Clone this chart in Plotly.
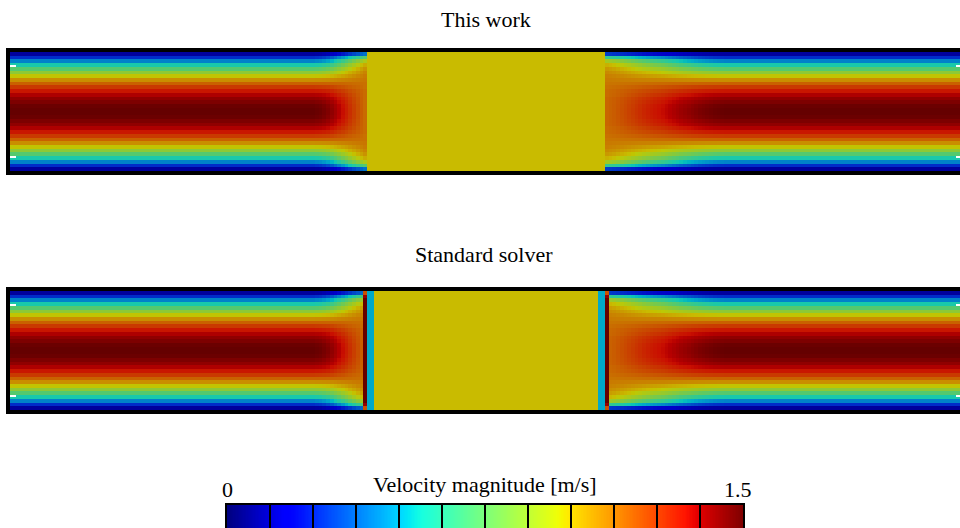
import numpy as np
import plotly.graph_objects as go

# ---------------- data ----------------
channel_length = 8.0          # channel length in channel heights
cells_per_unit = 32           # grid cells per channel height
plug_start = 3.0
plug_end = 5.0
plug_speed = 0.99             # m/s, uniform core block

# fully developed profile, wall -> centreline (m/s)
developed_half = [0.09, 0.27, 0.43, 0.58, 0.72, 0.85, 0.97, 1.08,
                  1.17, 1.25, 1.32, 1.38, 1.43, 1.46, 1.49, 1.50]
# profile just upstream of the block, wall -> centreline
approach_half = [0.40, 0.72, 0.92, 1.02, 1.07, 1.10, 1.12, 1.13,
                 1.14, 1.14, 1.15, 1.15, 1.15, 1.15, 1.15, 1.15]
# profile just downstream of the block, wall -> centreline
exit_half = [0.30, 0.65, 0.90, 1.01, 1.06, 1.09, 1.11, 1.12,
             1.13, 1.14, 1.15, 1.15, 1.16, 1.16, 1.16, 1.16]
# share of the disturbed profile, by cell count from the block
approach_weight = [1.0, 0.92, 0.83, 0.74, 0.65, 0.55, 0.46, 0.37,
                   0.28, 0.20, 0.13, 0.08, 0.04, 0.02]
exit_weight = [1.0, 0.97, 0.94, 0.90, 0.86, 0.82, 0.78, 0.74, 0.70,
               0.66, 0.62, 0.58, 0.55, 0.52, 0.49, 0.46, 0.42, 0.38,
               0.34, 0.30, 0.26, 0.23, 0.20, 0.17, 0.14, 0.11, 0.09,
               0.07, 0.05, 0.03, 0.02, 0.01]
# standard solver: spurious layers at both interfaces
spike_half = [1.20, 1.42, 1.50, 1.50, 1.50, 1.50, 1.50, 1.50,
              1.50, 1.50, 1.50, 1.50, 1.50, 1.50, 1.50, 1.50]
halo_speed = 0.50
halo_cells = 2

cbar_min, cbar_max = 0.0, 1.5
cbar_edges = [0.0, 0.125, 0.25, 0.375, 0.5, 0.625, 0.75, 0.875,
              1.0, 1.125, 1.25, 1.375, 1.5]
titles = ["This work", "Standard solver"]
cbar_title = "Velocity magnitude [m/s]"
edge_marks = [0.12, 0.88]

# ---------------- build fields ----------------
def full(h):
    h = list(h)
    return np.array(h + h[::-1], dtype=float)

ny = cells_per_unit
nx = int(round(channel_length * cells_per_unit))
i0 = int(round(plug_start * cells_per_unit))
i1 = int(round(plug_end * cells_per_unit))
dev, app, ext = full(developed_half), full(approach_half), full(exit_half)

Z1 = np.tile(dev[:, None], (1, nx))
Z1[:, i0:i1] = plug_speed
for d, w in enumerate(approach_weight, start=1):
    Z1[:, i0 - d] = dev + w * (app - dev)
for d, w in enumerate(exit_weight, start=1):
    Z1[:, i1 - 1 + d] = dev + w * (ext - dev)

Z2 = Z1.copy()
spike = full(spike_half)
Z2[:, i0 - 1] = spike
Z2[:, i1] = spike
Z2[:, i0:i0 + halo_cells] = halo_speed
Z2[:, i1 - halo_cells:i1] = halo_speed

# ---------------- colour scales (jet) ----------------
jet_r = ([0, 0.35, 0.66, 0.89, 1], [0, 0, 1, 1, 0.5])
jet_g = ([0, 0.125, 0.375, 0.64, 0.91, 1], [0, 0, 1, 1, 0, 0])
jet_b = ([0, 0.11, 0.34, 0.65, 1], [0.5, 1, 1, 0, 0])

def jet_scale(factor):
    out = []
    for t in np.linspace(0, 1, 101):
        r = np.interp(t, *jet_r) * 255 * factor
        g = np.interp(t, *jet_g) * 255 * factor
        b = np.interp(t, *jet_b) * 255 * factor
        out.append([float(t), f"rgb({r:.0f},{g:.0f},{b:.0f})"])
    return out

field_scale = jet_scale(0.79)
bar_scale = jet_scale(1.0)

fig = go.Figure()
dxy = 1.0 / cells_per_unit
for k, Z in enumerate([Z1, Z2]):
    ax = "" if k == 0 else "2"
    fig.add_trace(go.Heatmap(z=Z, x0=dxy / 2, dx=dxy, y0=dxy / 2, dy=dxy,
                             zmin=cbar_min, zmax=cbar_max, colorscale=field_scale,
                             showscale=False, hoverinfo="skip",
                             xaxis="x" + ax, yaxis="y" + ax))
# empty traces to carry the right-hand edge marks
fig.add_trace(go.Scatter(x=[], y=[], xaxis="x", yaxis="y4", showlegend=False))
fig.add_trace(go.Scatter(x=[], y=[], xaxis="x2", yaxis="y5", showlegend=False))

bar_vals = np.linspace(cbar_min, cbar_max, 361)
fig.add_trace(go.Heatmap(z=[bar_vals], x=bar_vals, y0=0.5, dy=1,
                         zmin=cbar_min, zmax=cbar_max, colorscale=bar_scale,
                         showscale=False, hoverinfo="skip",
                         xaxis="x3", yaxis="y3"))

for e in cbar_edges[1:-1]:
    fig.add_shape(type="line", xref="x3", yref="y3", x0=e, x1=e, y0=0, y1=1,
                  line=dict(color="black", width=2), layer="above")

# ---------------- layout ----------------
W, H = 960, 528
ml = 10
xmax = (W - ml) / 119.0
FONT = "Liberation Serif, Times New Roman, DejaVu Serif, serif"
panel_common_x = dict(range=[0, xmax], showline=True, mirror=True, linewidth=3.5,
                      linecolor="black", showticklabels=False, ticks="",
                      showgrid=False, zeroline=False)
panel_common_y = dict(range=[0, 1], showline=True, mirror=False, linewidth=3.5,
                      linecolor="black", ticks="inside", tickcolor="white",
                      ticklen=6, tickwidth=2, tickvals=edge_marks,
                      showticklabels=False, showgrid=False, zeroline=False)
right_marks = dict(range=[0, 1], side="right", showline=False, ticks="inside",
                   tickcolor="white", ticklen=4, tickwidth=2, tickvals=edge_marks,
                   showticklabels=False, showgrid=False, zeroline=False)
dom1 = [(H - 171) / H, (H - 52) / H]
dom2 = [(H - 410) / H, (H - 291) / H]

fig.update_layout(
    width=W, height=H, margin=dict(l=ml, r=0, t=0, b=0),
    paper_bgcolor="white", plot_bgcolor="white", showlegend=False,
    font=dict(family=FONT, size=22, color="black"),
    xaxis=dict(domain=[0, 1], anchor="y", **panel_common_x),
    yaxis=dict(domain=dom1, anchor="x", **panel_common_y),
    xaxis2=dict(domain=[0, 1], anchor="y2", **panel_common_x),
    yaxis2=dict(domain=dom2, anchor="x2", **panel_common_y),
    yaxis4=dict(overlaying="y", anchor="x", **right_marks),
    yaxis5=dict(overlaying="y2", anchor="x2", **right_marks),
    xaxis3=dict(domain=[(227 - ml) / (W - ml), (743 - ml) / (W - ml)], anchor="y3",
                range=[cbar_min, cbar_max], side="top", showline=True, linewidth=2,
                linecolor="black", showticklabels=False, ticks="",
                showgrid=False, zeroline=False),
    yaxis3=dict(domain=[0, (H - 505) / H], anchor="x3", range=[0, 1],
                showline=True, mirror=True, linewidth=2, linecolor="black",
                showticklabels=False, ticks="", showgrid=False, zeroline=False),
)

ann = [
    dict(text=titles[0], xref="paper", yref="paper", x=(486 - ml) / (W - ml),
         y=(H - 19) / H),
    dict(text=titles[1], xref="paper", yref="paper", x=(484 - ml) / (W - ml),
         y=(H - 254) / H),
    dict(text=cbar_title, xref="paper", yref="paper", x=(485 - ml) / (W - ml),
         y=(H - 484) / H),
    dict(text=f"{cbar_min:g}", xref="x3", yref="paper", x=cbar_min, y=(H - 489) / H),
    dict(text=f"{cbar_max:g}", xref="x3", yref="paper", x=cbar_max, y=(H - 489) / H,
         xshift=-5),
]
for a in ann:
    fig.add_annotation(showarrow=False, xanchor="center", yanchor="middle",
                       font=dict(family=FONT, size=22, color="black"), **a)

fig.write_html("out.html",
               config={"displayModeBar": False},
               post_script="document.body.style.margin='0px';"
                           "document.body.style.overflow='hidden';")
